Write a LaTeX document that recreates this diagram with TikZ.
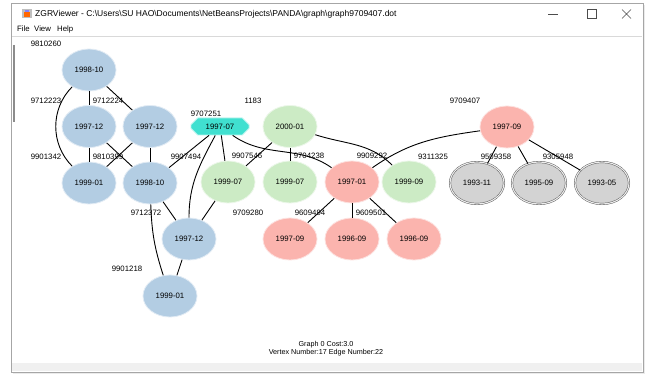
\documentclass[tikz,border=0pt]{standalone}
\usepackage{xcolor}
\usepackage{fontspec}
\setmainfont{Liberation Sans}
\usepackage{tikz}
\usetikzlibrary{positioning,shapes.geometric,shapes.misc}

\definecolor{vblue}{HTML}{B3CDE3}
\definecolor{vgreen}{HTML}{CCEBC5}
\definecolor{vred}{HTML}{FBB4AE}
\definecolor{vgray}{HTML}{D3D3D3}
\definecolor{vturq}{HTML}{40E0D0}

\begin{document}
\begin{tikzpicture}[x=1pt,y=1pt,node distance=56.5pt,on grid,
    vert/.style={ellipse,minimum width=54pt,minimum height=42pt,inner sep=0pt,
      font=\fontsize{7.8}{9}\selectfont,line width=0.8pt},
    bl/.style={vert,fill=vblue,draw=vblue!40!white},
    gr/.style={vert,fill=vgreen,draw=vgreen!40!white},
    rd/.style={vert,fill=vred,draw=vred!40!white},
    gy/.style={vert,fill=vgray,draw=black!65,line width=0.45pt,
      double=white!85!gray,double distance=1.1pt},
    oct/.style={chamfered rectangle,chamfered rectangle xsep=4pt,
      chamfered rectangle ysep=4pt,minimum width=58pt,minimum height=17pt,
      inner sep=0pt,fill=vturq,draw=vturq!40!white,line width=0.8pt,
      font=\fontsize{7.8}{9}\selectfont},
    lab/.style={font=\fontsize{7.8}{9}\selectfont,inner sep=0pt},
    every edge/.style={draw,line width=0.9pt}]
    	% window
    	\useasboundingbox (0,0) rectangle (654,-374);
    	\fill[white] (0,0) rectangle (654,-374);
    	\fill[black!8] (13,-5) rectangle (645,-374);
    	\filldraw[fill=white,draw=black!35] (11,-3) rectangle (643,-372);
    	\fill[black!6] (12,-363) rectangle (642,-371);
    	\draw[black!15] (12,-36) -- (642,-36);
    	\draw[black!45,line width=1.5pt] (14,-45) -- (14,-122);
    	\fill[black!25] (22,-9) rectangle (32,-18);
    	\fill[orange!80!red] (24,-12) rectangle (30,-17);
    	\fill[blue!50] (25,-10) rectangle (29,-12);
    	\node[anchor=west,inner sep=0pt,font=\fontsize{8.5}{10}\selectfont] (title) at (35,-14)
    	  {ZGRViewer - C:\textbackslash Users\textbackslash SU HAO\textbackslash Documents\textbackslash NetBeansProjects\textbackslash PANDA\textbackslash graph\textbackslash graph9709407.dot};
    	\draw[black!70,line width=0.5pt] (548,-14) -- (558,-14);
    	\draw[black!70,line width=0.5pt] (587,-9.5) rectangle (596,-18.5);
    	\draw[black!70,line width=0.5pt] (622,-9.5) -- (631,-18.5) (622,-18.5) -- (631,-9.5);
    	\node[anchor=west,lab] (file) at (17,-29) {File};
    	\node[anchor=west,lab] (view) at (34,-29) {View};
    	\node[anchor=west,lab] (help) at (57,-29) {Help};

    	% vertices
    	\node[bl] (0) at (89,-70) {1998-10};
    	\node[bl] (1) [below=of 0] {1997-12};
    	\node[bl] (2) [below=of 1] {1999-01};
    	\node[bl] (3) [right=61pt of 1] {1997-12};
    	\node[bl] (4) [below=of 3] {1998-10};
    	\node[bl] (5) [below right=56pt and 39pt of 4] {1997-12};
    	\node[bl] (6) [below left=57pt and 19pt of 5] {1999-01};
    	\node[oct] (7) [right=70pt of 3] {1997-07};
    	\node[gr] (8) [right=70pt of 7] {2000-01};
    	\node[gr] (9) at (228,-182) {1999-07};
    	\node[gr] (10) [below=55.5pt of 8] {1999-07};
    	\node[rd] (11) [right=62pt of 10] {1997-01};
    	\node[gr] (12) [right=57pt of 11] {1999-09};
    	\node[rd] (13) [below=57pt of 10] {1997-09};
    	\node[rd] (14) [right=62pt of 13] {1996-09};
    	\node[rd] (15) [right=62pt of 14] {1996-09};
    	\node[rd] (16) at (507,-127) {1997-09};
    	\node[gy] (17) at (477,-183) {1993-11};
    	\node[gy] (18) [right=62pt of 17] {1995-09};
    	\node[gy] (19) [right=63pt of 18] {1993-05};

    	% vertex ids
    	\node[lab] (l0) at (46,-44) {9810260};
    	\node[lab] (l1) at (46,-101) {9712223};
    	\node[lab] (l3) at (108,-101) {9712224};
    	\node[lab] (l2) at (46,-157) {9901342};
    	\node[lab] (l4) at (108,-157) {9810399};
    	\node[lab] (l7a) at (186,-157) {9907494};
    	\node[lab] (l7) at (206,-114) {9707251};
    	\node[lab] (l8) at (253,-101) {1183};
    	\node[lab] (l9) at (247,-156) {9907546};
    	\node[lab] (l10) at (309,-156) {9704238};
    	\node[lab] (l11) at (372,-156) {9909292};
    	\node[lab] (l12) at (433,-157) {9311325};
    	\node[lab] (l17) at (496,-157) {9509358};
    	\node[lab] (l19) at (558,-157) {9305948};
    	\node[lab] (l16) at (465,-101) {9709407};
    	\node[lab] (l5) at (146,-213) {9712372};
    	\node[lab] (l5a) at (248,-213) {9709280};
    	\node[lab] (l13) at (310,-213) {9609494};
    	\node[lab] (l14) at (371,-213) {9609501};
    	\node[lab] (l6) at (127,-269) {9901218};

    	\path
    	(0) edge (1)
    	(0) edge (3)
    	(0) edge [out=225,in=135] (2)
    	(1) edge (2)
    	(1) edge (4)
    	(3) edge (2)
    	(3) edge (4)
    	(4) edge (7)
    	(4) edge (5)
    	(4) edge [bend right=8] (6)
    	(7) edge [out=-118,in=90] (5)
    	(7) edge (9)
    	(7) edge [out=-35,in=145] (11)
    	(8) edge (9)
    	(8) edge (10)
    	(8) edge [out=-18,in=135] (12)
    	(16) edge [out=188,in=35] (11)
    	(16) edge (17)
    	(16) edge (18)
    	(16) edge (19)
    	(11) edge (13)
    	(11) edge (14)
    	(11) edge (15)
    	(9) edge (5)
    	(5) edge (6);

    	\node[lab,font=\fontsize{7.2}{8}\selectfont] (cost) at (326,-345) {Graph 0 Cost:3.0};
    	\node[lab,font=\fontsize{7.2}{8}\selectfont] (count) at (326,-353) {Vertex Number:17 Edge Number:22};
    \end{tikzpicture}
\end{document}
